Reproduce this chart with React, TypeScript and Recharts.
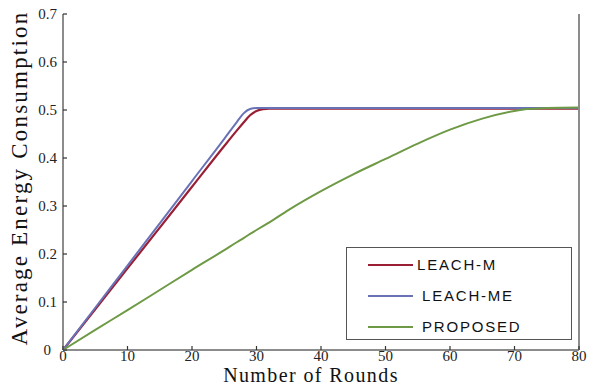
import React from 'react';
import { LineChart, Line, XAxis, YAxis, Label } from 'recharts';

const rounds = [0, 5, 10, 15, 20, 25, 27, 28, 29, 30, 31, 32, 35, 40, 45, 50, 55, 60, 65, 70, 72, 75, 80];
const leachM = [0, 0.085, 0.17, 0.255, 0.34, 0.425, 0.458, 0.474, 0.489, 0.498, 0.502, 0.503, 0.503, 0.503, 0.503, 0.503, 0.503, 0.503, 0.503, 0.503, 0.503, 0.503, 0.503];
const leachME = [0, 0.088, 0.176, 0.264, 0.352, 0.44, 0.476, 0.493, 0.502, 0.504, 0.504, 0.504, 0.504, 0.504, 0.504, 0.504, 0.504, 0.504, 0.504, 0.504, 0.504, 0.504, 0.504];
const proposed = [0, 0.042, 0.083, 0.125, 0.167, 0.208, 0.225, 0.233, 0.242, 0.25, 0.258, 0.266, 0.292, 0.331, 0.366, 0.398, 0.43, 0.459, 0.482, 0.498, 0.502, 0.504, 0.505];

const seriesNames = ['LEACH-M', 'LEACH-ME', 'PROPOSED'];
const seriesKeys = ['leachM', 'leachME', 'proposed'];
const seriesColors = ['#9a1f35', '#6a72b6', '#6e9a45'];

const xTicks = [0, 10, 20, 30, 40, 50, 60, 70, 80];
const yTicks = [0, 0.1, 0.2, 0.3, 0.4, 0.5, 0.6, 0.7];

const data = rounds.map((r, i) => ({
  round: r,
  leachM: leachM[i],
  leachME: leachME[i],
  proposed: proposed[i],
}));

const serif = '"Liberation Serif", "DejaVu Serif", serif';
const sans = '"Liberation Sans", Arial, sans-serif';
const axisColor = '#8c8c8c';

// ticks point inward, labels sit outside
const BottomTick = (props: any) => {
  const { x, y, payload } = props;
  return (
    <g>
      <line x1={x} x2={x} y1={y} y2={y - 4} stroke="#333" strokeWidth={1.2} />
      <text x={x} y={y + 11} textAnchor="middle" fontFamily={serif} fontSize={15} fill="#222">
        {payload.value}
      </text>
    </g>
  );
};

const LeftTick = (props: any) => {
  const { x, y, payload } = props;
  return (
    <g>
      <line x1={x} x2={x + 4} y1={y} y2={y} stroke="#333" strokeWidth={1.2} />
      <text
        x={payload.value === 0 ? x - 12 : x - 6}
        y={y + 5}
        textAnchor="end"
        fontFamily={serif}
        fontSize={15}
        fill="#222"
      >
        {payload.value}
      </text>
    </g>
  );
};

const TopTick = (props: any) => {
  const { x, y } = props;
  return <line x1={x} x2={x} y1={y} y2={y + 4} stroke="#333" strokeWidth={1.2} />;
};

const RightTick = (props: any) => {
  const { x, y } = props;
  return <line x1={x} x2={x - 4} y1={y} y2={y} stroke="#333" strokeWidth={1.2} />;
};

const LegendBox = () => (
  <div
    style={{
      position: 'absolute',
      left: 346,
      top: 247,
      width: 226,
      height: 93,
      border: '1px solid #555',
      background: '#fff',
      boxSizing: 'border-box',
      paddingTop: 1,
    }}
  >
    {seriesNames.map((name, i) => (
      <div key={name} style={{ display: 'flex', alignItems: 'center', height: 31 }}>
        <span
          style={{
            display: 'inline-block',
            width: 45,
            height: 0,
            borderTop: `2px solid ${seriesColors[i]}`,
            marginLeft: 21,
            marginRight: i === 0 ? 4 : 9,
          }}
        />
        <span style={{ fontFamily: sans, fontSize: 15, letterSpacing: 1.8, color: '#111' }}>{name}</span>
      </div>
    ))}
  </div>
);

export default function App() {
  return (
    <div style={{ position: 'absolute', left: 0, top: 0, width: 596, height: 387, background: '#fff' }}>
      <LineChart width={596} height={387} data={data} margin={{ top: 14, right: 0, bottom: 0, left: 0 }}>
        <XAxis
          dataKey="round"
          type="number"
          domain={[0, 80]}
          ticks={xTicks}
          tickLine={false}
          tickSize={0}
          tickMargin={0}
          height={37}
          tick={<BottomTick />}
          stroke={axisColor}
          strokeWidth={2}
        >
          <Label
            value="Number of Rounds"
            position="insideBottom"
            offset={5}
            dx={-10}
            style={{ fontFamily: serif, fontSize: 20, letterSpacing: 1.4, fill: '#111' }}
          />
        </XAxis>
        <XAxis
          xAxisId="top"
          orientation="top"
          dataKey="round"
          type="number"
          domain={[0, 80]}
          ticks={xTicks}
          tickLine={false}
          tickSize={0}
          height={0}
          tick={<TopTick />}
          stroke={axisColor}
          strokeWidth={2}
        />
        <YAxis
          type="number"
          domain={[0, 0.7]}
          ticks={yTicks}
          tickLine={false}
          tickSize={0}
          tickMargin={0}
          width={63}
          tick={<LeftTick />}
          stroke={axisColor}
          strokeWidth={2}
        >
          <Label
            value="Average Energy Consumption"
            angle={-90}
            position="insideLeft"
            offset={19}
            dy={-4}
            style={{ textAnchor: 'middle', fontFamily: serif, fontSize: 23, letterSpacing: 2.2, fill: '#111' }}
          />
        </YAxis>
        <YAxis
          yAxisId="right"
          orientation="right"
          type="number"
          domain={[0, 0.7]}
          ticks={yTicks}
          tickLine={false}
          tickSize={0}
          width={17}
          tick={<RightTick />}
          stroke={axisColor}
          strokeWidth={2}
        />
        {seriesKeys.map((k, i) => (
          <Line
            key={k}
            type="monotone"
            dataKey={k}
            name={seriesNames[i]}
            stroke={seriesColors[i]}
            strokeWidth={i === 0 ? 2.2 : 2}
            dot={false}
            isAnimationActive={false}
          />
        ))}
      </LineChart>
      <LegendBox />
    </div>
  );
}
